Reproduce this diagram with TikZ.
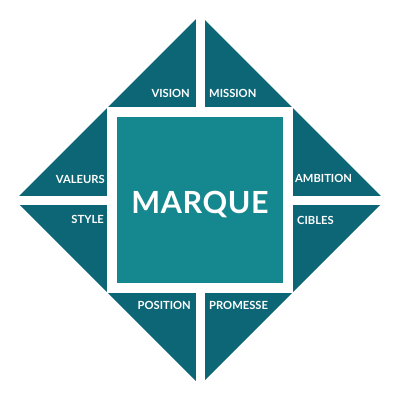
\documentclass[tikz,border=0pt]{standalone}
\usepackage{fontspec}
\setmainfont{Lato}
\definecolor{darkteal}{HTML}{0D6676}
\definecolor{midteal}{HTML}{15878F}
\begin{document}
\begin{tikzpicture}[x=1pt,y=-1pt,
  lbl/.style={text=white,font=\fontsize{11.2}{12}\selectfont\bfseries,inner sep=0pt},
  big/.style={text=white,font=\fontsize{30.5}{32}\selectfont\bfseries\addfontfeatures{LetterSpace=2},inner sep=0pt}]
\useasboundingbox (0,0) rectangle (400,400);
\fill[white] (0,0) rectangle (400,400);
% diamond
\fill[darkteal] (200,15) -- (385,200) -- (200,385) -- (15,200) -- cycle;
% white cross
\fill[white] (195.5,0) rectangle (204.5,400);
\fill[white] (0,195.5) rectangle (400,204.5);
% white frame and centre square
\fill[white] (107,107) rectangle (293,293);
\fill[midteal] (117,117) rectangle (283,283);
% labels
\node[lbl,anchor=base east] (vision) at (190,97) {VISION};
\node[lbl,anchor=base west] (mission) at (209,97) {MISSION};
\node[lbl,anchor=base east] (valeurs) at (105,183) {VALEURS};
\node[lbl,anchor=base east] (style) at (104,223.5) {STYLE};
\node[lbl,anchor=base west] (ambition) at (295,182) {AMBITION};
\node[lbl,anchor=base west] (cibles) at (297,224) {CIBLES};
\node[lbl,anchor=base east] (position) at (191,309) {POSITION};
\node[lbl,anchor=base west] (promesse) at (209,309) {PROMESSE};
\node[big,anchor=base] (marque) at (200,213) {MARQUE};
\end{tikzpicture}
\end{document}
